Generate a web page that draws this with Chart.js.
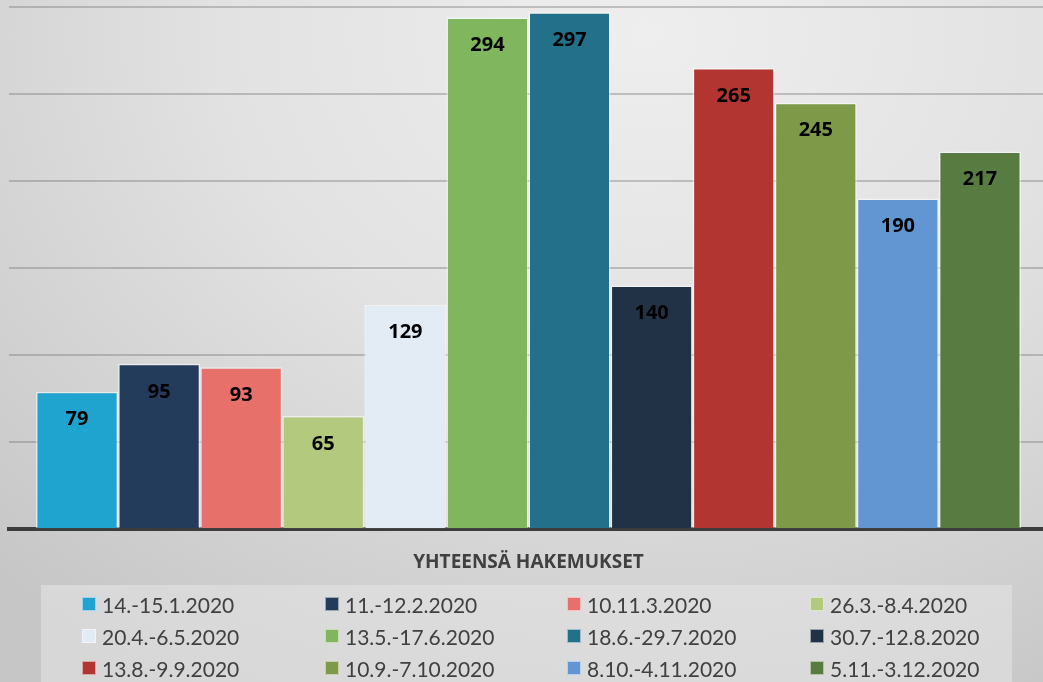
<!DOCTYPE html>
<html>
<head>
<meta charset="utf-8">
<script src="https://cdn.jsdelivr.net/npm/chart.js@4/dist/chart.umd.min.js"></script>
<style>
    html, body { margin: 0; padding: 0; overflow: hidden; }
    body {
        width: 1043px; height: 682px; position: relative;
        background: radial-gradient(ellipse 90% 110% at 62% 5%, #eeeeee 0%, #e2e2e2 45%, #c6c6c6 100%);
        font-family: Lato, "Open Sans", sans-serif;
    }
    #wrap { position: absolute; left: 0; top: 0; width: 1048px; height: 588px; }
    #legend {
        position: absolute; left: 41px; top: 585px; width: 971px; height: 110px;
        background: rgba(230, 230, 230, 0.55);
        display: grid; grid-template-columns: 243px 242px 243px 243px;
        grid-auto-rows: 32px; padding: 3px 0 0 41px; box-sizing: border-box;
    }
    .item { display: flex; align-items: center; font-size: 21px; color: #404040; }
    .box { width: 12px; height: 12px; margin-right: 6px; border: 1.5px solid rgba(255,255,255,0.55); }
</style>
</head>
<body>
<div id="wrap"><canvas id="chart"></canvas></div>
<div id="legend"></div>
<script>
// Hakemukset per haku
const categories = ['YHTEENSÄ HAKEMUKSET'];
const periods = [
    '14.-15.1.2020', '11.-12.2.2020', '10.11.3.2020', '26.3.-8.4.2020',
    '20.4.-6.5.2020', '13.5.-17.6.2020', '18.6.-29.7.2020', '30.7.-12.8.2020',
    '13.8.-9.9.2020', '10.9.-7.10.2020', '8.10.-4.11.2020', '5.11.-3.12.2020'
];
const applications = [79, 95, 93, 65, 129, 294, 297, 140, 265, 245, 190, 217];
const colors = [
    '#1fa3cf', '#243c5b', '#e8706a', '#b3ca7e',
    '#e3ebf5', '#80b75e', '#22708a', '#223246',
    '#b23532', '#7e9a48', '#6196d2', '#587b42'
];
const yTicks = [0, 50, 100, 150, 200, 250, 300];

// value labels inside the top of each bar
const valueLabels = {
    id: 'valueLabels',
    afterDatasetsDraw(chart) {
        const { ctx } = chart;
        ctx.save();
        ctx.font = 'bold 20px "Open Sans", sans-serif';
        ctx.fillStyle = '#000';
        ctx.textAlign = 'center';
        ctx.textBaseline = 'middle';
        chart.data.datasets.forEach((ds, i) => {
            const bar = chart.getDatasetMeta(i).data[0];
            ctx.fillText(ds.data[0], bar.x, bar.y + 28);
        });
        ctx.restore();
    }
};

const chart = new Chart(document.getElementById('chart'), {
    type: 'bar',
    data: {
        labels: categories,
        datasets: periods.map((p, i) => ({
            label: p,
            data: [applications[i]],
            backgroundColor: colors[i],
            borderColor: 'rgba(255,255,255,0.55)',
            borderWidth: 1.5,
            categoryPercentage: 0.948,
            barPercentage: 1
        }))
    },
    options: {
        responsive: true,
        maintainAspectRatio: false,
        animation: false,
        layout: { padding: { left: 9, top: 7, right: 0, bottom: 0 } },
        plugins: { legend: { display: false }, tooltip: { enabled: false } },
        scales: {
            x: {
                grid: { display: false },
                border: { color: '#3c3c3c', width: 4 },
                ticks: {
                    color: '#404040', padding: 14,
                    font: { family: '"Open Sans", sans-serif', size: 19, weight: 'bold' }
                }
            },
            y: {
                min: 0, max: 300,
                z: 1,
                afterBuildTicks: (axis) => { axis.ticks = yTicks.map(v => ({ value: v })); },
                ticks: { display: false },
                border: { display: false },
                grid: {
                    color: (c) => c.tick.value === 0 ? 'rgba(0,0,0,0)' : 'rgba(120,120,120,0.4)',
                    lineWidth: 2,
                    drawTicks: false
                }
            }
        }
    },
    plugins: [valueLabels]
});

// legend in a 4-column grid, built from the chart's datasets
const legend = document.getElementById('legend');
chart.data.datasets.forEach(ds => {
    const item = document.createElement('div');
    item.className = 'item';
    item.innerHTML = `<span class="box" style="background:${ds.backgroundColor}"></span><span>${ds.label}</span>`;
    legend.appendChild(item);
});
</script>
</body>
</html>
